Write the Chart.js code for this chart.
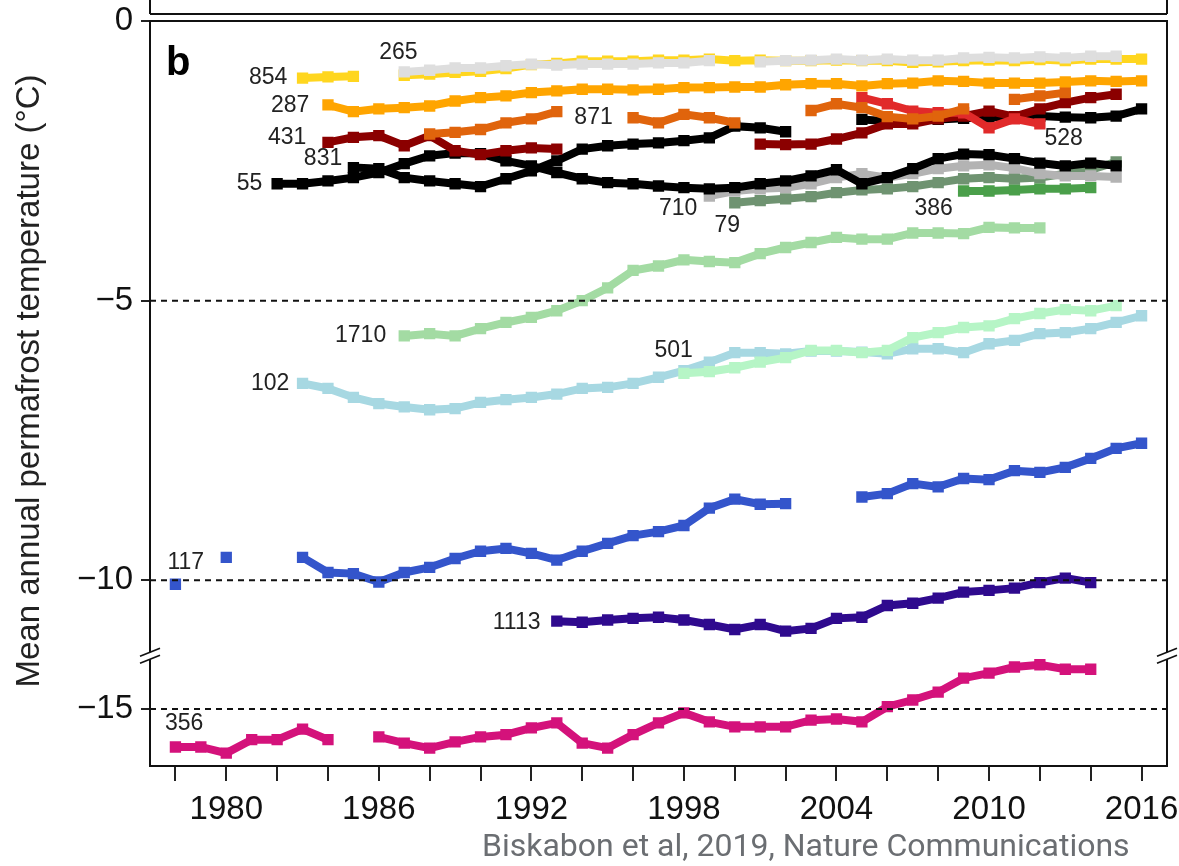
<!DOCTYPE html>
<html>
<head>
<meta charset="utf-8">
<script src="https://cdn.jsdelivr.net/npm/chart.js@4.4.1/dist/chart.umd.min.js"></script>
<style>
  html, body { margin: 0; padding: 0; background: #fff; }
  #wrap { position: relative; width: 1179px; height: 866px; }
  #caption { position: absolute; left: 482px; top: 826px; font-family: Roboto, sans-serif; font-size: 32px; color: #6b6e72; white-space: nowrap; }
</style>
</head>
<body>
<div id="wrap">
  <canvas id="chart" width="1179" height="866"></canvas>
  <div id="caption">Biskabon et al, 2019, Nature Communications</div>
</div>
<script>
const _ = null;

// years 1978 .. 2016, one value per year (null = no measurement)
const years = [1978, 1979, 1980, 1981, 1982, 1983, 1984, 1985, 1986, 1987,
  1988, 1989, 1990, 1991, 1992, 1993, 1994, 1995, 1996, 1997,
  1998, 1999, 2000, 2001, 2002, 2003, 2004, 2005, 2006, 2007,
  2008, 2009, 2010, 2011, 2012, 2013, 2014, 2015, 2016];

const tickYears = [1978, 1980, 1982, 1984, 1986, 1988, 1990, 1992, 1994, 1996, 1998,
  2000, 2002, 2004, 2006, 2008, 2010, 2012, 2014, 2016];
const labelYears = [1980, 1986, 1992, 1998, 2004, 2010, 2016];
const topTicks = [0, -5, -10];
const bottomTicks = [-15];
const dashTop = [-5, -10];
const dashBottom = [-15];

// mean annual permafrost temperature (°C), per borehole
const t854 = [_, _, _, _, _, -1.02, -1.00, -0.99, _, -0.97,
  -0.95, -0.92, -0.90, -0.85, -0.78, -0.76, -0.72, -0.72, -0.72, -0.70,
  -0.70, -0.68, -0.71, -0.70, -0.71, -0.71, -0.70, -0.71, -0.71, -0.74,
  -0.73, -0.71, -0.70, -0.71, -0.69, -0.71, -0.68, -0.68, -0.68];
const t265 = [_, _, _, _, _, _, _, _, _, -0.91,
  -0.88, -0.84, -0.84, -0.80, -0.77, -0.79, -0.77, -0.77, -0.77, -0.75,
  -0.75, -0.71, _, -0.73, -0.71, -0.70, -0.68, -0.70, -0.68, -0.70,
  -0.70, -0.66, -0.65, -0.66, -0.64, -0.66, -0.63, -0.63, _];
const t287 = [_, _, _, _, _, _, -1.50, -1.62, -1.57, -1.55,
  -1.52, -1.43, -1.37, -1.34, -1.28, -1.25, -1.22, -1.22, -1.23, -1.22,
  -1.19, -1.19, -1.18, -1.18, -1.14, -1.12, -1.12, -1.16, -1.12, -1.11,
  -1.07, -1.08, -1.11, -1.11, -1.11, -1.09, -1.07, -1.08, -1.07];
const t871 = [_, _, _, _, _, _, _, _, _, _,
  -2.02, -1.99, -1.94, -1.82, -1.75, -1.62, _, _, -1.73, -1.82,
  -1.67, -1.73, -1.82, _, _, -1.60, -1.48, -1.55, -1.71, -1.75,
  -1.70, -1.57, _, -1.40, -1.34, -1.28, _, _, _];
const t528 = [_, _, _, _, _, _, _, _, _, _,
  _, _, _, _, _, _, _, _, _, _,
  _, _, _, _, _, _, _, -1.37, -1.48, -1.61,
  -1.64, -1.64, -1.91, -1.75, -1.84, _, _, _, _];
const t431 = [_, _, _, _, _, _, -2.17, -2.08, -2.05, -2.23,
  -2.05, -2.32, -2.39, -2.32, -2.27, -2.29, _, _, _, _,
  _, _, _, -2.20, -2.21, -2.20, -2.11, -2.00, -1.84, -1.84,
  -1.75, -1.70, -1.61, -1.71, -1.57, -1.46, -1.37, -1.31, _];
const t831 = [_, _, _, _, _, _, _, -2.62, -2.64, -2.80,
  -2.86, -2.91, -2.96, -2.82, -2.68, -2.50, -2.29, -2.23, -2.20, -2.18,
  -2.14, -2.09, -1.88, -1.91, -1.98, _, _, -1.76, -1.79, -1.78,
  -1.76, -1.74, -1.72, -1.72, -1.70, -1.72, -1.73, -1.70, -1.57];
const t55 = [_, _, _, _, -2.91, -2.91, -2.86, -2.80, -2.71, -2.55,
  -2.41, -2.36, -2.37, -2.50, -2.59, -2.71, -2.82, -2.89, -2.91, -2.95,
  -2.98, -3.00, -2.98, -2.91, -2.86, -2.77, -2.66, -2.91, -2.80, -2.64,
  -2.46, -2.38, -2.39, -2.46, -2.54, -2.59, -2.54, -2.59, _];
const t710 = [_, _, _, _, _, _, _, _, _, _,
  _, _, _, _, _, _, _, _, _, _,
  _, -3.13, -3.04, -3.00, -2.98, -2.91, -2.80, -2.73, -2.80, -2.73,
  -2.64, -2.59, -2.57, -2.63, -2.73, -2.77, -2.77, -2.79, _];
const t79 = [_, _, _, _, _, _, _, _, _, _,
  _, _, _, _, _, _, _, _, _, _,
  _, _, -3.25, -3.21, -3.18, -3.14, -3.07, -3.02, -3.00, -2.96,
  -2.89, -2.82, -2.80, -2.82, -2.80, -2.73, -2.66, -2.52, _];
const t386 = [_, _, _, _, _, _, _, _, _, _,
  _, _, _, _, _, _, _, _, _, _,
  _, _, _, _, _, _, _, _, _, _,
  _, -3.04, -3.04, -3.02, -3.00, -3.00, -2.98, _, _];
const t1710 = [_, _, _, _, _, _, _, _, _, -5.63,
  -5.59, -5.63, -5.50, -5.39, -5.30, -5.18, -5.00, -4.77, -4.46, -4.38,
  -4.27, -4.30, -4.32, -4.16, -4.05, -3.96, -3.87, -3.90, -3.90, -3.79,
  -3.79, -3.80, -3.69, -3.70, -3.70, _, _, _, _];
const t501 = [_, _, _, _, _, _, _, _, _, _,
  _, _, _, _, _, _, _, _, _, _,
  -6.30, -6.27, -6.20, -6.10, -6.02, -5.89, -5.89, -5.93, -5.89, -5.66,
  -5.57, -5.48, -5.45, -5.32, -5.23, -5.16, -5.18, -5.09, _];
const t102 = [_, _, _, _, _, -6.48, -6.57, -6.73, -6.84, -6.90,
  -6.95, -6.93, -6.82, -6.77, -6.73, -6.67, -6.57, -6.55, -6.48, -6.37,
  -6.25, -6.10, -5.93, -5.93, -5.95, -5.90, -5.90, -5.92, -5.95, -5.86,
  -5.86, -5.93, -5.77, -5.71, -5.59, -5.57, -5.50, -5.39, -5.27];
const t117 = [-10.07, _, -9.59, _, _, -9.59, -9.86, -9.88, -10.03, -9.86,
  -9.77, -9.61, -9.48, -9.43, -9.52, -9.64, -9.48, -9.34, -9.20, -9.13,
  -9.02, -8.71, -8.55, -8.64, -8.63, _, _, -8.51, -8.45, -8.27,
  -8.33, -8.18, -8.20, -8.04, -8.07, -7.98, -7.82, -7.64, -7.55];
const t1113 = [_, _, _, _, _, _, _, _, _, _,
  _, _, _, _, _, -10.73, -10.75, -10.71, -10.68, -10.66,
  -10.71, -10.79, -10.88, -10.79, -10.91, -10.86, -10.68, -10.66, -10.45, -10.41,
  -10.32, -10.21, -10.18, -10.14, -10.04, -9.96, -10.04, _, _];
const t356 = [-15.68, -15.68, -15.79, -15.55, -15.55, -15.36, -15.55, _, -15.50, -15.61,
  -15.70, -15.59, -15.50, -15.46, -15.34, -15.25, -15.61, -15.70, -15.46, -15.25,
  -15.07, -15.23, -15.32, -15.32, -15.32, -15.20, -15.18, -15.23, -14.96, -14.84,
  -14.70, -14.45, -14.36, -14.25, -14.21, -14.29, -14.29, _, _];

// series labels written next to the lines (anchor in year / °C)
const labelText = ['854', '265', '287', '431', '831', '55', '871', '528', '710', '79', '386', '1710', '501', '102', '117', '1113', '356'];
const labelYear = [1982.4, 1986.77, 1983.27, 1983.15, 1984.56, 1981.42, 1993.69, 2012.18, 1998.53, 1999.2, 2007.07, 1986.29, 1996.84, 1982.48, 1979.13, 1992.36, 1977.59];
const labelTemp = [-1.02, -0.57, -1.52, -2.08, -2.46, -2.91, -1.73, -2.11, -3.36, -3.66, -3.36, -5.63, -5.89, -6.48, -9.68, -10.75, -15.27];
const labelAlign = ['right', 'center', 'right', 'right', 'right', 'right', 'left', 'left', 'right', 'left', 'left', 'right', 'left', 'right', 'right', 'right', 'left'];

const FONT = "'Liberation Sans', Arial, sans-serif";
Chart.defaults.font.family = FONT;

// first entry is drawn on top
const series = [
  { values: t265, color: '#dedede' },
  { values: t854, color: '#ffd61f' },
  { values: t287, color: '#ffa500' },
  { values: t871, color: '#e0640c' },
  { values: t528, color: '#e12a2a' },
  { values: t431, color: '#8b0000' },
  { values: t831, color: '#000000' },
  { values: t55, color: '#000000' },
  { values: t710, color: '#b3b3b3' },
  { values: t79, color: '#6f9371' },
  { values: t386, color: '#4a9f4a' },
  { values: t1710, color: '#a3dba3' },
  { values: t501, color: '#b6f5c6' },
  { values: t102, color: '#a7d8e2' },
  { values: t117, color: '#3455cb' },
  { values: t1113, color: '#2f0a8e' },
  { values: t356, color: '#d4127b', axis: 'y2' }
];

const datasets = series.map(s => ({
  data: years.map((yr, i) => ({ x: yr, y: s.values[i] })),
  yAxisID: s.axis || 'y',
  borderColor: s.color,
  backgroundColor: s.color,
  borderWidth: 8,
  pointStyle: 'rect',
  pointRadius: 8,
  pointBorderWidth: 0,
  pointHoverRadius: 8,
  tension: 0,
  spanGaps: false
}));

function line(ctx, x1, y1, x2, y2) {
  ctx.beginPath();
  ctx.moveTo(x1, y1);
  ctx.lineTo(x2, y2);
  ctx.stroke();
}

const decor = {
  id: 'decor',
  afterDatasetsDraw(chart) {
    const { ctx, chartArea: a, scales } = chart;
    const x = scales.x, yt = scales.y, yb = scales.y2;
    ctx.save();
    ctx.strokeStyle = '#111';

    // dashed reference lines
    ctx.setLineDash([6, 5]);
    ctx.lineWidth = 2;
    dashTop.forEach(v => { const py = yt.getPixelForValue(v); line(ctx, a.left, py, a.right, py); });
    dashBottom.forEach(v => { const py = yb.getPixelForValue(v); line(ctx, a.left, py, a.right, py); });
    ctx.setLineDash([]);

    // frame of panel b and bottom edge of panel a
    ctx.lineWidth = 2;
    ctx.strokeRect(a.left, a.top, a.right - a.left, a.bottom - a.top);
    line(ctx, a.left, 0, a.left, 14);
    line(ctx, a.right, 0, a.right, 14);
    line(ctx, a.left, 14, a.right, 14);

    // axis break marks
    const by = yb.top;
    [a.left, a.right].forEach(bx => {
      ctx.fillStyle = '#fff';
      ctx.fillRect(bx - 3, by - 3, 6, 7);
      ctx.lineWidth = 1.8;
      line(ctx, bx - 10, by + 1, bx + 10, by - 7);
      line(ctx, bx - 10, by + 8, bx + 10, by);
    });

    // series labels
    ctx.fillStyle = '#222';
    ctx.font = '23px ' + FONT;
    ctx.textBaseline = 'middle';
    labelText.forEach((t, i) => {
      const axis = labelTemp[i] < -12 ? yb : yt;
      ctx.textAlign = labelAlign[i];
      ctx.fillText(t, x.getPixelForValue(labelYear[i]), axis.getPixelForValue(labelTemp[i]));
    });

    // panel letter
    ctx.font = 'bold 40px ' + FONT;
    ctx.textAlign = 'left';
    ctx.fillStyle = '#000';
    ctx.fillText('b', a.left + 16, a.top + 43);

    // y axis title
    ctx.translate(30, 381);
    ctx.rotate(-Math.PI / 2);
    ctx.textAlign = 'center';
    ctx.font = '33px ' + FONT;
    ctx.fillStyle = '#222';
    ctx.fillText('Mean annual permafrost temperature (\u00b0C)', 0, 0);
    ctx.restore();
  }
};

const tickFont = { family: FONT, size: 33 };
const minus = v => v === 0 ? '0' : '\u2212' + Math.abs(v);
const noPad = s => { s.paddingLeft = 0; s.paddingRight = 0; s.paddingTop = 0; s.paddingBottom = 0; };

new Chart(document.getElementById('chart'), {
  type: 'line',
  data: { datasets },
  options: {
    responsive: false,
    animation: false,
    devicePixelRatio: 1,
    layout: { padding: { left: 0, top: 21, right: 12, bottom: 0 } },
    plugins: { legend: { display: false }, tooltip: { enabled: false } },
    scales: {
      x: {
        type: 'linear',
        min: 1977,
        max: 2017,
        afterBuildTicks: s => { s.ticks = tickYears.map(v => ({ value: v })); },
        afterFit: s => { s.height = 100; noPad(s); },
        ticks: {
          callback: v => labelYears.includes(v) ? String(v) : '',
          font: tickFont, color: '#111', maxRotation: 0, autoSkip: false, padding: 9
        },
        grid: { drawOnChartArea: false, tickLength: 15, color: '#222', lineWidth: 2 },
        border: { display: false }
      },
      y: {
        type: 'linear',
        position: 'left',
        stack: 'temp',
        stackWeight: 11.34,
        weight: 2,
        min: -11.34,
        max: 0,
        afterBuildTicks: s => { s.ticks = topTicks.map(v => ({ value: v })); },
        afterFit: s => { s.width = 150; noPad(s); },
        ticks: { callback: minus, font: tickFont, color: '#111', padding: 8 },
        grid: { drawOnChartArea: false, tickLength: 9, color: '#222', lineWidth: 2 },
        border: { display: false }
      },
      y2: {
        type: 'linear',
        position: 'left',
        stack: 'temp',
        stackWeight: 1.98,
        weight: 1,
        min: -16.02,
        max: -14.04,
        afterBuildTicks: s => { s.ticks = bottomTicks.map(v => ({ value: v })); },
        afterFit: s => { s.width = 150; noPad(s); },
        ticks: { callback: minus, font: tickFont, color: '#111', padding: 8 },
        grid: { drawOnChartArea: false, tickLength: 9, color: '#222', lineWidth: 2 },
        border: { display: false }
      }
    }
  },
  plugins: [decor]
});
</script>
</body>
</html>
